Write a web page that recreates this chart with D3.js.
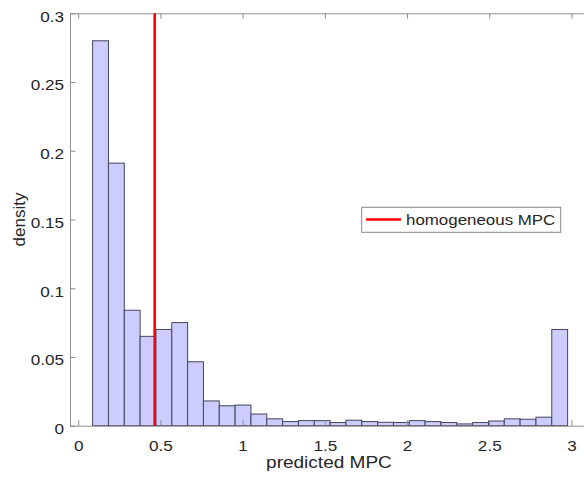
<!DOCTYPE html>
<html>
<head>
<meta charset="utf-8">
<script src="https://cdn.jsdelivr.net/npm/d3@7"></script>
<style>
  body { margin: 0; background: #fff; }
  text { font-family: "Liberation Sans", Arial, sans-serif; fill: #262626; }
</style>
</head>
<body>
<svg id="chart" width="584" height="477"></svg>
<script>
// histogram of predicted MPC (bin edges + probability per bin)
var binStart = 0.0876;
var binWidth = 0.0963;
var density = [0.280, 0.191, 0.084, 0.065, 0.070, 0.075, 0.0465, 0.018, 0.0145, 0.015,
               0.0085, 0.005, 0.003, 0.0037, 0.0037, 0.0023, 0.004, 0.003, 0.0025, 0.0023,
               0.0037, 0.003, 0.0023, 0.0013, 0.0023, 0.0034, 0.005, 0.0047, 0.0062, 0.070];
var homogeneousMPC = 0.465;

var xTicks = [0, 0.5, 1, 1.5, 2, 2.5, 3];
var xTickLabels = ["0", "0.5", "1", "1.5", "2", "2.5", "3"];
var yTicks = [0, 0.05, 0.1, 0.15, 0.2, 0.25, 0.3];
var yTickLabels = ["0", "0.05", "0.1", "0.15", "0.2", "0.25", "0.3"];
var xLim = [-0.05, 3.1];
var yLim = [0, 0.3];

var stretch = 1.12; // text in the picture is a little wider than tall

var svg = d3.select("#chart");
var x = d3.scaleLinear().domain(xLim).range([70, 587.9]);
var y = d3.scaleLinear().domain(yLim).range([425.7, 13.3]);

// bars
var bins = density.map((d, i) => ({ x0: binStart + i * binWidth, x1: binStart + (i + 1) * binWidth, v: d }));
svg.append("g").selectAll("rect")
  .data(bins)
  .enter().append("rect")
  .attr("x", d => x(d.x0))
  .attr("width", d => x(d.x1) - x(d.x0))
  .attr("y", d => y(d.v))
  .attr("height", d => y(0) - y(d.v))
  .attr("fill", "#ccccff")
  .attr("stroke", "#44445a")
  .attr("stroke-width", 1);

// axes (ticks point inward, drawn on top of bars)
var axisColor = "#8f8f8f";
var xAxis = d3.axisBottom(x).tickValues(xTicks).tickFormat((d, i) => xTickLabels[i])
  .tickSizeInner(-5.5).tickSizeOuter(0).tickPadding(14);
var gx = svg.append("g").attr("transform", `translate(0,${y(0)})`).call(xAxis);

var xTop = d3.axisTop(x).tickValues(xTicks).tickFormat("")
  .tickSizeInner(-5.5).tickSizeOuter(0);
var gt = svg.append("g").attr("transform", `translate(0,${y(yLim[1])})`).call(xTop);

var yAxis = d3.axisLeft(y).tickValues(yTicks).tickFormat((d, i) => yTickLabels[i])
  .tickSizeInner(-5.5).tickSizeOuter(0).tickPadding(6 / stretch);
var gy = svg.append("g").attr("transform", `translate(${x(xLim[0])},0)`).call(yAxis);

[gx, gt, gy].forEach(g => {
  g.select(".domain").attr("stroke", axisColor);
  g.selectAll(".tick line").attr("stroke", axisColor);
  g.selectAll("text")
    .attr("font-size", 15.3)
    .attr("font-family", '"Liberation Sans", Arial, sans-serif')
    .attr("fill", "#262626");
});
gx.selectAll("text").attr("transform", `scale(${stretch},1)`);
gy.selectAll("text").attr("transform", `scale(${stretch},1)`).attr("dy", "0.52em");

// homogeneous MPC line
svg.append("line")
  .attr("x1", x(homogeneousMPC)).attr("x2", x(homogeneousMPC))
  .attr("y1", y(yLim[1])).attr("y2", y(0))
  .attr("stroke", "#ff0000")
  .attr("stroke-width", 2.6);

// axis labels
svg.append("text")
  .attr("transform", `translate(${(x(xLim[0]) + x(xLim[1])) / 2},467.5) scale(${stretch},1)`)
  .attr("text-anchor", "middle")
  .attr("font-size", 17)
  .text("predicted MPC");

svg.append("text")
  .attr("transform", `translate(24.5,${(y(0) + y(yLim[1])) / 2}) rotate(-90)`)
  .attr("text-anchor", "middle")
  .attr("font-size", 17)
  .text("density");

// legend
var leg = svg.append("g");
leg.append("rect")
  .attr("x", 361.7).attr("y", 207.3)
  .attr("width", 199).attr("height", 25)
  .attr("fill", "#fff")
  .attr("stroke", "#888")
  .attr("stroke-width", 1);
leg.append("line")
  .attr("x1", 366).attr("x2", 401)
  .attr("y1", 219.5).attr("y2", 219.5)
  .attr("stroke", "#ff0000")
  .attr("stroke-width", 2.6);
leg.append("text")
  .attr("transform", `translate(406,225) scale(${stretch},1)`)
  .attr("font-size", 15.1)
  .attr("fill", "#000")
  .text("homogeneous MPC");
</script>
</body>
</html>
